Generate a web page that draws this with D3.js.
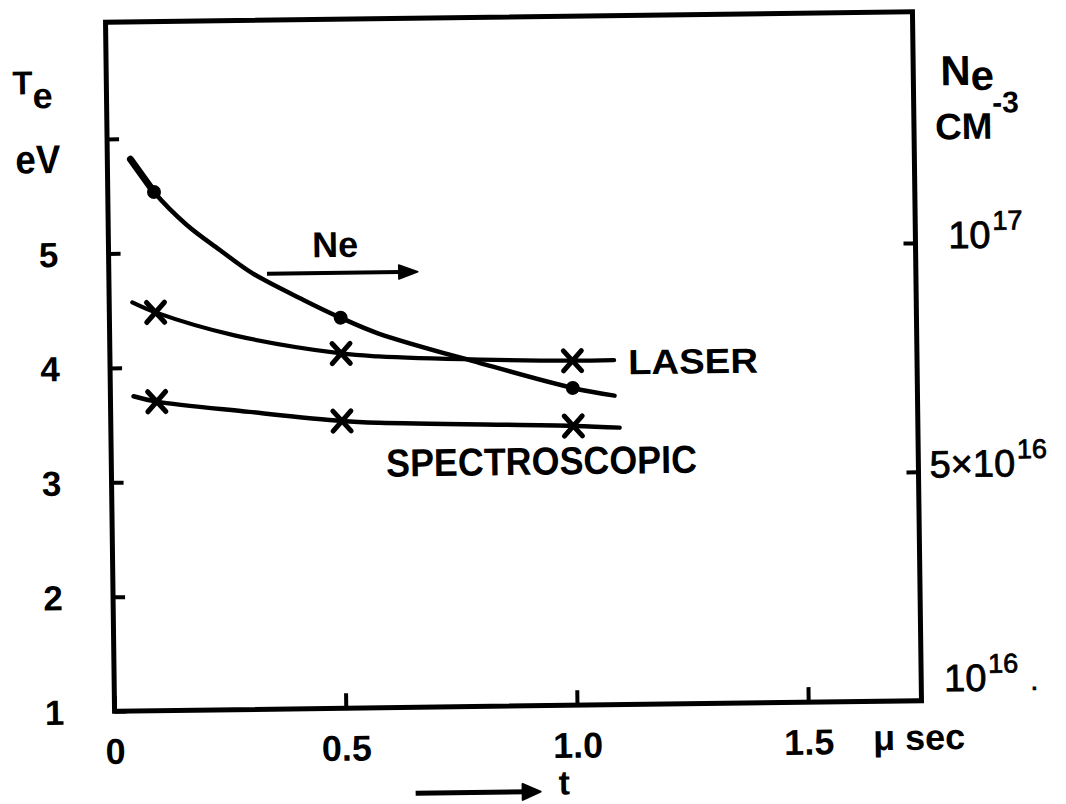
<!DOCTYPE html>
<html>
<head>
<meta charset="utf-8">
<script src="https://cdn.jsdelivr.net/npm/d3@7"></script>
<style>
  body { margin: 0; background: #fff; }
  svg { display: block; }
  text { font-family: "Liberation Sans", Arial, sans-serif; fill: #000; }
</style>
</head>
<body>
<svg id="chart" width="1066" height="804"></svg>
<script>
// ---- time axis (microseconds) ----
const tTicks = [0, 0.5, 1.0, 1.5];
const tTickLabels = ["0", "0.5", "1.0", "1.5"];

// ---- electron temperature axis (eV) ----
const teTicks = [1, 2, 3, 4, 5, 6];
const teTickLabels = ["1", "2", "3", "4", "5", ""];

// ---- electron density axis (cm^-3) ----
const neTicks = [1e16, 5e16, 1e17];
const neTickMantissa = ["10", "5\u00d710", "10"];
const neTickExponent = ["16", "16", "17"];
const neTickMarked = [5e16, 1e17];

// ---- Te from laser scattering ----
const laserT  = [0.05, 0.10, 0.27, 0.50, 0.58, 0.80, 1.00, 1.09];
const laserTe = [4.57, 4.48, 4.27, 4.10, 4.07, 4.03, 4.01, 4.01];
const laserPointT  = [0.1, 0.5, 1.0];
const laserPointTe = [4.48, 4.10, 4.01];

// ---- Te from spectroscopy ----
const specT  = [0.05, 0.10, 0.30, 0.50, 0.58, 1.00, 1.10];
const specTe = [3.75, 3.70, 3.60, 3.51, 3.49, 3.44, 3.42];
const specPointT  = [0.1, 0.5, 1.0];
const specPointTe = [3.70, 3.51, 3.44];

// ---- electron density ----
const neT   = [0.05, 0.10, 0.17, 0.24, 0.31, 0.42, 0.50, 0.58, 0.80, 1.00, 1.09];
const neVal = [1.205e17, 1.133e17, 1.06e17, 1.005e17, 9.53e16, 8.93e16, 8.53e16, 8.18e16, 7.5e16, 6.93e16, 6.75e16];
const nePointT   = [0.1, 0.5, 1.0];
const nePointVal = [1.133e17, 8.53e16, 6.93e16];

const zip = (a, b) => a.map((v, i) => [v, b[i]]);

const W = 1066, H = 804;
const frame = { left: 110, right: 917, top: 17, bottom: 706 };

const x   = d3.scaleLinear().domain([0, 1.745]).range([frame.left, frame.right]);
const yTe = d3.scaleLinear().domain([1, 7.02]).range([frame.bottom, frame.top]);
// the density scale is hand-graduated: 10^17 sits level with 5 eV, 5x10^16 with 3 eV
const yNe = d3.scaleLinear().domain(neTicks).range([yTe(1.13), yTe(3), yTe(5)]);

const svg = d3.select("#chart");
svg.append("rect").attr("width", W).attr("height", H).attr("fill", "#fff");

// the whole drawing sits slightly askew on the sheet
const g = svg.append("g").attr("transform", "rotate(-0.75 512 361)");

// ---- frame ----
g.append("rect")
  .attr("x", frame.left).attr("y", frame.top)
  .attr("width", frame.right - frame.left).attr("height", frame.bottom - frame.top)
  .attr("fill", "none").attr("stroke", "#000").attr("stroke-width", 5);

// ---- bottom axis ----
const xAxis = g.append("g")
  .attr("transform", `translate(0,${frame.bottom})`)
  .call(d3.axisBottom(x).tickValues(tTicks).tickSize(-15).tickPadding(27)
          .tickFormat((d, i) => tTickLabels[i]));
xAxis.select(".domain").remove();
xAxis.selectAll(".tick line").attr("stroke", "#000").attr("stroke-width", 4);
xAxis.selectAll(".tick text").attr("font-size", 36).attr("font-weight", "bold");

// ---- left axis (Te) ----
const yAxis = g.append("g")
  .attr("transform", `translate(${frame.left},0)`)
  .call(d3.axisLeft(yTe).tickValues(teTicks).tickSize(-12)
          .tickFormat((d, i) => teTickLabels[i]));
yAxis.select(".domain").remove();
yAxis.selectAll(".tick line").attr("stroke", "#000").attr("stroke-width", 4);
yAxis.selectAll(".tick text")
  .attr("x", -60).attr("dy", "0.35em").attr("text-anchor", "middle")
  .attr("font-size", 35).attr("font-weight", "bold");

// ---- right axis (Ne) ----
const rAxis = g.append("g")
  .attr("transform", `translate(${frame.right},0)`)
  .call(d3.axisRight(yNe).tickValues(neTickMarked).tickSize(-12).tickFormat(""));
rAxis.select(".domain").remove();
rAxis.selectAll(".tick line").attr("stroke", "#000").attr("stroke-width", 4);

const neLabels = g.append("g").selectAll("text")
  .data(neTicks)
  .join("text")
  .attr("x", frame.right + 70)
  .attr("y", d => yNe(d))
  .attr("dy", "0.36em")
  .attr("text-anchor", "middle")
  .attr("stroke", "#000").attr("stroke-width", 0.8);
neLabels.append("tspan")
  .attr("font-size", 38)
  .text((d, i) => neTickMantissa[i]);
neLabels.append("tspan")
  .attr("font-size", 27).attr("dy", -18).attr("dx", 2)
  .text((d, i) => neTickExponent[i]);
neLabels.filter((d, i) => i === 0).append("tspan")
  .attr("font-size", 28).attr("dy", 18).attr("dx", 12)
  .text(".");

// ---- axis titles ----
const teTitle = g.append("text").attr("x", 16).attr("y", 88).attr("font-weight", "bold");
teTitle.append("tspan").attr("font-size", 33).text("T");
teTitle.append("tspan").attr("font-size", 36).attr("dy", 14).text("e");
g.append("text").attr("x", 18).attr("y", 167).attr("font-size", 40).attr("font-weight", "bold")
  .attr("textLength", 45).attr("lengthAdjust", "spacingAndGlyphs").text("eV");

const neTitle = g.append("text").attr("x", 944).attr("y", 91).attr("font-size", 42).attr("font-weight", "bold");
neTitle.append("tspan").text("N");
neTitle.append("tspan").attr("dy", 5).text("e");
const unitTitle = g.append("text").attr("x", 938).attr("y", 145).attr("font-size", 37).attr("font-weight", "bold");
unitTitle.append("tspan").text("CM");
unitTitle.append("tspan").attr("font-size", 30).attr("dy", -26).text("-3");

g.append("text").attr("x", 868).attr("y", frame.bottom + 49)
  .attr("font-size", 36).attr("font-weight", "bold").text("\u03bc sec");

// time arrow below the axis
const tArrowY = frame.bottom + 86;
g.append("line").attr("x1", 410).attr("x2", 522).attr("y1", tArrowY).attr("y2", tArrowY)
  .attr("stroke", "#000").attr("stroke-width", 5);
g.append("path")
  .attr("d", `M517,${tArrowY - 8} L535,${tArrowY} L517,${tArrowY + 8} Z`)
  .attr("fill", "#000").attr("stroke", "#000").attr("stroke-width", 2).attr("stroke-linejoin", "round");
g.append("text").attr("x", 553).attr("y", frame.bottom + 89)
  .attr("font-size", 34).attr("font-weight", "bold").text("t");

// ---- curves ----
const teLine = d3.line().x(d => x(d[0])).y(d => yTe(d[1])).curve(d3.curveCatmullRom.alpha(0.5));
const neLine = d3.line().x(d => x(d[0])).y(d => yNe(d[1])).curve(d3.curveCatmullRom.alpha(0.5));

g.append("path").attr("d", neLine(zip(neT, neVal)))
  .attr("fill", "none").attr("stroke", "#000").attr("stroke-width", 4.5).attr("stroke-linecap", "round");
// heavier pen stroke at the start of the density curve
g.append("path").attr("d", neLine(zip(neT, neVal).slice(0, 2)))
  .attr("fill", "none").attr("stroke", "#000").attr("stroke-width", 7).attr("stroke-linecap", "round");
g.append("path").attr("d", teLine(zip(laserT, laserTe)))
  .attr("fill", "none").attr("stroke", "#000").attr("stroke-width", 4.2).attr("stroke-linecap", "round");
g.append("path").attr("d", teLine(zip(specT, specTe)))
  .attr("fill", "none").attr("stroke", "#000").attr("stroke-width", 4.5).attr("stroke-linecap", "round");

// ---- measured points ----
g.append("g").selectAll("circle")
  .data(zip(nePointT, nePointVal))
  .join("circle")
  .attr("cx", d => x(d[0])).attr("cy", d => yNe(d[1])).attr("r", 7).attr("fill", "#000");

const cross = "M-9,-10L9,10M-9,10L9,-10";
g.append("g").selectAll("path")
  .data(zip(laserPointT, laserPointTe).map(d => ({ t: d[0], v: yTe(d[1]) }))
        .concat(zip(specPointT, specPointTe).map(d => ({ t: d[0], v: yTe(d[1]) }))))
  .join("path")
  .attr("transform", d => `translate(${x(d.t)},${d.v})`)
  .attr("d", cross)
  .attr("fill", "none").attr("stroke", "#000").attr("stroke-width", 5).attr("stroke-linecap", "round");

// ---- annotations ----
g.append("text").attr("x", x(1.12)).attr("y", yTe(3.885))
  .attr("font-size", 35).attr("font-weight", "bold")
  .attr("textLength", 130).attr("lengthAdjust", "spacingAndGlyphs").text("LASER");
g.append("text").attr("x", x(0.594)).attr("y", yTe(3.018))
  .attr("font-size", 39).attr("font-weight", "bold")
  .attr("textLength", 311).attr("lengthAdjust", "spacingAndGlyphs").text("SPECTROSCOPIC");

g.append("text").attr("x", x(0.49)).attr("y", yTe(4.943))
  .attr("text-anchor", "middle").attr("font-size", 36).attr("font-weight", "bold").text("Ne");
const neArrowY = yTe(4.805);
g.append("line").attr("x1", x(0.342)).attr("x2", x(0.63)).attr("y1", neArrowY).attr("y2", neArrowY)
  .attr("stroke", "#000").attr("stroke-width", 4);
g.append("path")
  .attr("d", `M${x(0.627)},${neArrowY - 7} L${x(0.668)},${neArrowY} L${x(0.627)},${neArrowY + 7} Z`)
  .attr("fill", "#000").attr("stroke", "#000").attr("stroke-width", 1.5).attr("stroke-linejoin", "round");
</script>
</body>
</html>
